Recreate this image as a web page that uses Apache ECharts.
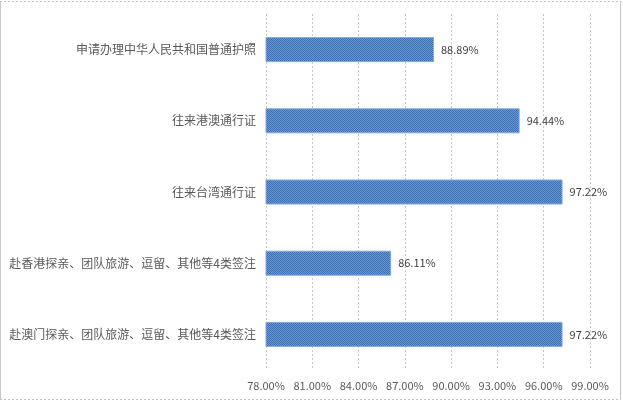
<!DOCTYPE html>
<html>
<head>
<meta charset="utf-8">
<script src="https://cdn.jsdelivr.net/npm/echarts@6/dist/echarts.min.js"></script>
<style>
  html, body { margin: 0; padding: 0; background: #fff; }
  #chart { width: 623px; height: 401px; }
</style>
</head>
<body>
<div id="chart"></div>
<script>
// Document categories, listed top to bottom
const categories = [
  '申请办理中华人民共和国普通护照',
  '往来港澳通行证',
  '往来台湾通行证',
  '赴香港探亲、团队旅游、逗留、其他等4类签注',
  '赴澳门探亲、团队旅游、逗留、其他等4类签注'
];
// Percentage for each category (same order)
const values = [88.89, 94.44, 97.22, 86.11, 97.22];
// Value axis range and step
const axisMin = 78;
const axisMax = 99;
const axisStep = 3;

// Small checkered tile used to fill the bars
function makeChecker() {
  const c = document.createElement('canvas');
  c.width = 2; c.height = 2;
  const g = c.getContext('2d');
  g.fillStyle = '#6a99d6'; g.fillRect(0, 0, 2, 2);
  g.fillStyle = '#3a6db2'; g.fillRect(0, 0, 1, 1); g.fillRect(1, 1, 1, 1);
  return c;
}

const chart = echarts.init(document.getElementById('chart'), null, { renderer: 'canvas' });
const font = '"Microsoft YaHei", "Noto Sans CJK SC", sans-serif';

chart.setOption({
  animation: false,
  backgroundColor: '#ffffff',
  grid: { left: 266, right: 33, top: 14, bottom: 31, containLabel: false },
  xAxis: {
    type: 'value',
    min: axisMin,
    max: axisMax,
    interval: axisStep,
    axisLine: { show: false },
    axisTick: { show: false },
    axisLabel: {
      color: '#595959', fontSize: 11, fontFamily: font, margin: 10,
      formatter: v => v.toFixed(2) + '%'
    },
    splitLine: { show: true, lineStyle: { color: '#c8c8c8', type: [2, 2], width: 1 } }
  },
  yAxis: {
    type: 'category',
    data: categories,
    inverse: true,
    axisLine: { show: false },
    axisTick: { show: false },
    axisLabel: { color: '#595959', fontSize: 12, fontFamily: font, margin: 10 }
  },
  series: [{
    type: 'bar',
    data: values,
    barWidth: 25,
    itemStyle: {
      color: { image: makeChecker(), repeat: 'repeat' },
      borderColor: '#7fa8dc',
      borderWidth: 1
    },
    label: {
      show: true,
      position: 'right',
      distance: 7,
      color: '#404040',
      fontSize: 11,
      fontFamily: font,
      formatter: p => p.value.toFixed(2) + '%'
    }
  }],
  graphic: [
    { type: 'line', shape: { x1: 0.5, y1: 1, x2: 0.5, y2: 399 }, style: { stroke: '#c8c8c8', lineWidth: 1 } },
    { type: 'line', shape: { x1: 620.5, y1: 1, x2: 620.5, y2: 399 }, style: { stroke: '#c8c8c8', lineWidth: 1 } },
    { type: 'line', shape: { x1: 0, y1: 1.5, x2: 621, y2: 1.5 }, style: { stroke: '#c0c0c0', lineWidth: 1, lineDash: [2, 2] } },
    { type: 'line', shape: { x1: 0, y1: 399.5, x2: 621, y2: 399.5 }, style: { stroke: '#c0c0c0', lineWidth: 1, lineDash: [2, 2] } }
  ]
});
</script>
</body>
</html>
